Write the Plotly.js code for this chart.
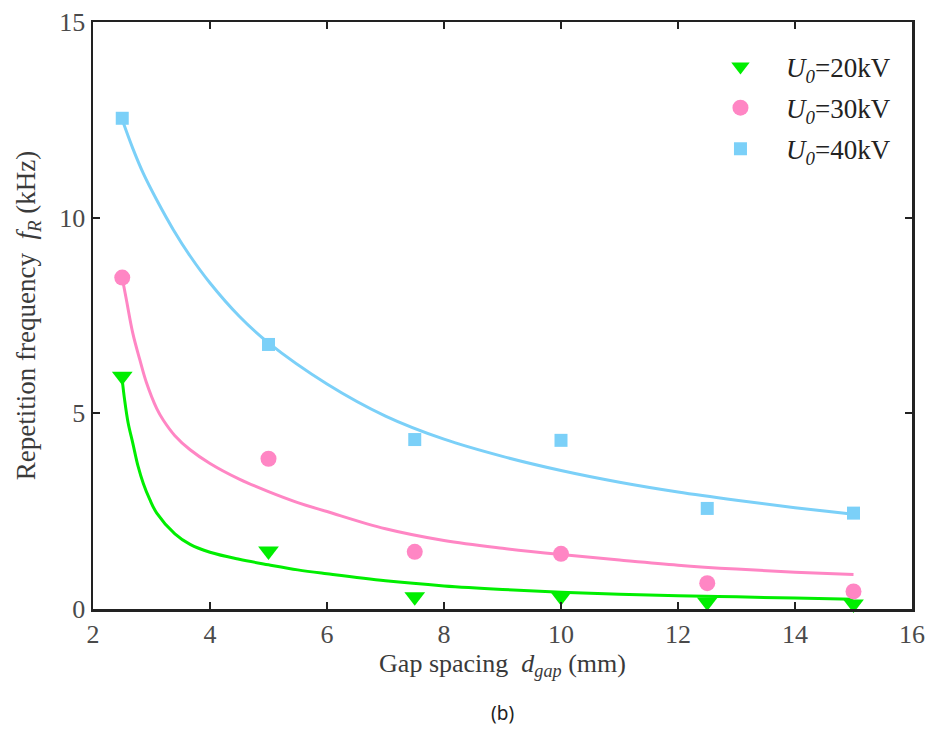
<!DOCTYPE html>
<html>
<head>
<meta charset="utf-8">
<script src="https://cdn.plot.ly/plotly-3.0.1.min.js"></script>
<style>html,body{margin:0;padding:0;background:#fff;}#chart{width:933px;height:729px;}</style>
</head>
<body>
<div id="chart"></div>
<script>
// Measured data points
const gapX = [2.5, 5, 7.5, 10, 12.5, 15];
const f20 = [5.95, 1.48, 0.31, 0.31, 0.18, 0.13];
const f30 = [8.47, 3.84, 1.46, 1.41, 0.66, 0.45];
const f40 = [12.54, 6.76, 4.33, 4.31, 2.57, 2.45];

// Fitted curves
const fit20X = [2.5, 2.54, 2.6, 2.68, 2.77, 2.86, 2.97, 3.09, 3.4, 3.66, 4.0, 4.5, 5.0, 5.5, 6.0, 7.0, 8.0, 9.0, 10.0, 11.0, 12.0, 13.0, 14.0, 15.0];
const fit20Y = [5.85, 5.35, 4.76, 4.24, 3.65, 3.21, 2.8, 2.45, 1.92, 1.65, 1.45, 1.27, 1.13, 1.0, 0.9, 0.72, 0.59, 0.5, 0.43, 0.38, 0.34, 0.31, 0.28, 0.25];
const fit30X = [2.5, 2.57, 2.68, 2.8, 2.91, 3.09, 3.2, 3.4, 3.66, 4.0, 4.5, 5.0, 5.5, 6.0, 7.0, 8.0, 9.0, 10.0, 11.0, 12.0, 13.0, 14.0, 15.0];
const fit30Y = [8.46, 7.91, 7.05, 6.37, 5.8, 5.12, 4.83, 4.43, 4.07, 3.72, 3.32, 3.0, 2.72, 2.49, 2.05, 1.75, 1.55, 1.39, 1.25, 1.12, 1.02, 0.94, 0.88];
const fit40X = [2.5, 2.68, 2.86, 3.09, 3.37, 3.66, 4.0, 4.5, 5.0, 6.0, 7.0, 8.0, 9.0, 10.0, 11.0, 12.0, 13.0, 14.0, 15.0];
const fit40Y = [12.5, 11.77, 11.13, 10.45, 9.7, 9.02, 8.33, 7.48, 6.8, 5.75, 4.93, 4.34, 3.9, 3.54, 3.24, 2.99, 2.78, 2.59, 2.42];

const names = ['<i>U</i><sub><i>0</i></sub>=20kV', '<i>U</i><sub><i>0</i></sub>=30kV', '<i>U</i><sub><i>0</i></sub>=40kV'];
const xTicks = [2, 4, 6, 8, 10, 12, 14, 16];
const yTicks = [0, 5, 10, 15];

const cGreen = '#00EE00', cPink = '#FF86C4', cBlue = '#7BD0F8';
const serif = 'Liberation Serif';

const lineTrace = (x, y, c) => ({x, y, mode: 'lines', type: 'scatter', showlegend: false, hoverinfo: 'skip',
  line: {color: c, width: 3, shape: 'spline', smoothing: 1}, cliponaxis: false});

const data = [
  lineTrace(fit20X, fit20Y, cGreen),
  lineTrace(fit30X, fit30Y, cPink),
  lineTrace(fit40X, fit40Y, cBlue),
  {x: gapX, y: f20, name: names[0], legendgroup: 'g20', mode: 'markers', type: 'scatter', cliponaxis: false,
   marker: {symbol: 'triangle-down', size: 18, color: cGreen}},
  {x: gapX, y: f30, name: names[1], legendgroup: 'g30', mode: 'markers', type: 'scatter', cliponaxis: false,
   marker: {symbol: 'circle', size: 16, color: cPink}},
  {x: gapX, y: f40, name: names[2], legendgroup: 'g40', mode: 'markers', type: 'scatter', cliponaxis: false,
   marker: {symbol: 'square', size: 13, color: cBlue}}
];

function makeAxis(extra) {
  return Object.assign({
    showline: true, mirror: 'ticks', linecolor: '#222', linewidth: 2.5,
    ticks: 'inside', ticklen: 7, tickwidth: 2, tickcolor: '#222',
    showgrid: false, zeroline: false,
    tickfont: {family: serif, size: 26, color: '#4a4a4a'}
  }, extra);
}

const layout = {
  width: 933, height: 729,
  margin: {l: 93, r: 21, t: 22, b: 120},
  paper_bgcolor: '#fff', plot_bgcolor: '#fff',
  font: {family: serif, size: 26, color: '#4a4a4a'},
  xaxis: makeAxis({
    range: [2, 16], tickmode: 'array', tickvals: xTicks, ticktext: xTicks.map(String),
    title: {text: 'Gap spacing  <i>d</i><sub><i>gap</i></sub> (mm)', font: {family: serif, size: 26, color: '#3a3a3a'}, standoff: 6}
  }),
  yaxis: makeAxis({
    range: [0, 15], tickmode: 'array', tickvals: yTicks, ticktext: yTicks.map(String),
    title: {text: 'Repetition frequency  <i>f</i><sub><i>R</i></sub> (kHz)', font: {family: serif, size: 27, color: '#3a3a3a'}, standoff: 16}
  }),
  legend: {x: 0.735, y: 0.965, xanchor: 'left', yanchor: 'top', bgcolor: 'rgba(0,0,0,0)',
    font: {family: serif, size: 27, color: '#222'}, itemwidth: 81, tracegroupgap: 3},
  annotations: [{text: '(b)', xref: 'paper', yref: 'paper', x: 0.5, y: 0, yshift: -104, yanchor: 'middle',
    showarrow: false, font: {family: 'Noto Sans', size: 19, color: '#222'}}]
};

Plotly.newPlot('chart', data, layout, {displayModeBar: false, staticPlot: true});
</script>
</body>
</html>
